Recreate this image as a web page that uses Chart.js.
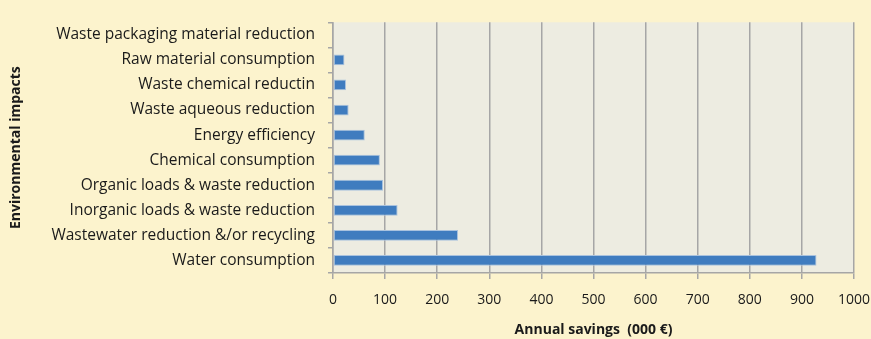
<!DOCTYPE html>
<html>
<head>
<meta charset="utf-8">
<script src="https://cdn.jsdelivr.net/npm/chart.js@4"></script>
<style>
  html, body { margin: 0; padding: 0; background: #fcf3cd; }
  #wrap { width: 871px; height: 339px; }
</style>
</head>
<body>
<div id="wrap"><canvas id="myChart" width="871" height="339"></canvas></div>
<script>
// impactos y ahorro anual (miles de euros)
const impactos = [
    'Waste packaging material reduction',
    'Raw material consumption',
    'Waste chemical reductin',
    'Waste aqueous reduction',
    'Energy efficiency',
    'Chemical consumption',
    'Organic loads & waste reduction',
    'Inorganic loads & waste reduction',
    'Wastewater reduction &/or recycling',
    'Water consumption'
];
const ahorros = [0, 22, 25, 30, 61, 90, 96, 124, 240, 928];
const ticksX = [0, 100, 200, 300, 400, 500, 600, 700, 800, 900, 1000];

const FUENTE = '"Open Sans", "Noto Sans", sans-serif';

// pinta el fondo gris del area de la grafica
const fondoArea = {
    id: 'fondoArea',
    beforeDraw(chart) {
        const a = chart.chartArea;
        const ctx = chart.ctx;
        ctx.save();
        ctx.fillStyle = '#edece1';
        ctx.fillRect(a.left, a.top, a.right - a.left, a.bottom - a.top);
        ctx.restore();
    }
};

var ctx = document.getElementById('myChart').getContext('2d');
var myChart = new Chart(ctx, {
    type: 'bar',
    data: {
        labels: impactos,
        datasets: [{
            label: 'Annual savings',
            data: ahorros,
            backgroundColor: '#3f7cbf',
            borderColor: '#a9c2de',
            borderWidth: 1,
            borderSkipped: false,
            categoryPercentage: 1,
            barPercentage: 0.43
        }]
    },
    options: {
        indexAxis: 'y',
        responsive: false,
        animation: false,
        layout: { padding: { top: 8, right: 17, left: 0, bottom: 0 } },
        plugins: {
            legend: { display: false },
            tooltip: { enabled: false }
        },
        scales: {
            x: {
                min: 0,
                max: 1000,
                afterBuildTicks: (scale) => {
                    scale.ticks = ticksX.map((v) => ({ value: v }));
                },
                afterFit: (scale) => {
                    scale.height = 66;
                    scale.paddingRight = 17;
                },
                grid: {
                    color: '#a6a6a6',
                    lineWidth: 1.5,
                    tickLength: 6,
                    drawOnChartArea: true
                },
                border: { display: true, color: '#a6a6a6', width: 1.5 },
                ticks: {
                    color: '#1a1a1a',
                    padding: 13,
                    maxRotation: 0,
                    callback: (v) => String(v),
                    font: { family: FUENTE, size: 14 }
                },
                title: {
                    display: true,
                    text: 'Annual savings  (000 €)',
                    color: '#1a1a1a',
                    padding: { top: 1, bottom: 1 },
                    font: { family: FUENTE, size: 14, weight: 'bold' }
                }
            },
            y: {
                afterFit: (scale) => { scale.width = 333; },
                grid: {
                    offset: true,
                    drawOnChartArea: false,
                    color: '#a6a6a6',
                    lineWidth: 1.5,
                    tickLength: 5
                },
                border: { display: true, color: '#a6a6a6', width: 1.5 },
                ticks: {
                    color: '#1a1a1a',
                    padding: 13,
                    autoSkip: false,
                    font: { family: FUENTE, size: 15.5 }
                },
                title: {
                    display: true,
                    text: 'Environmental impacts',
                    color: '#1a1a1a',
                    padding: { top: 8, bottom: 0 },
                    font: { family: FUENTE, size: 14, weight: 'bold' }
                }
            }
        }
    },
    plugins: [fondoArea]
});
</script>
</body>
</html>
